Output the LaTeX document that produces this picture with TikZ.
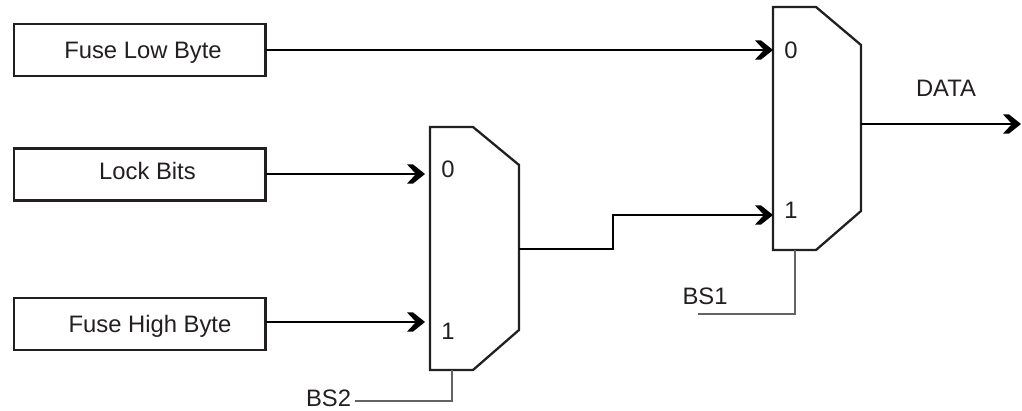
\documentclass[tikz,border=0pt]{standalone}
\usepackage{fontspec}
\setmainfont{Liberation Sans}
\usetikzlibrary{arrows.meta}
\definecolor{ink}{HTML}{231F20}
\pgfdeclarearrow{
  name=Chev,
  setup code={
    \pgfarrowssettipend{0pt}
    \pgfarrowssetlineend{-8pt}
    \pgfarrowssetbackend{-18pt}
    \pgfarrowssetvisualbackend{-9pt}
  },
  drawing code={
    \pgfpathmoveto{\pgfqpoint{0pt}{0pt}}
    \pgfpathlineto{\pgfqpoint{-12pt}{9.6pt}}
    \pgfpathlineto{\pgfqpoint{-18pt}{9.6pt}}
    \pgfpathlineto{\pgfqpoint{-9pt}{0pt}}
    \pgfpathlineto{\pgfqpoint{-18pt}{-9.6pt}}
    \pgfpathlineto{\pgfqpoint{-12pt}{-9.6pt}}
    \pgfpathclose
    \pgfusepathqfill
  }
}
\tikzset{
  x=1pt,y=-1pt,
  box/.style={draw=ink,line width=2.3pt,fill=white,minimum width=251.5pt,minimum height=52pt,inner sep=0pt,outer sep=0pt},
  txt/.style={anchor=base,inner sep=0pt,text=ink,font=\fontsize{23.8}{28}\selectfont},
  wire/.style={draw=black,line width=2.3pt,line join=miter},
  arrowwire/.style={wire,-{Chev}},
  muxbody/.style={draw=ink,line width=2.3pt,fill=white,line join=miter},
  sel/.style={draw=ink!70,line width=1.2pt},
}
\begin{document}
\begin{tikzpicture}
\useasboundingbox (0,0) rectangle (1022,411);
% input boxes
\node[box] (low) at (139.75,50) {};
\node[box] (lock) at (139.75,174.5) {};
\node[box] (high) at (139.75,324) {};
\node[txt] (lowt) at (143,59) {Fuse Low Byte};
\node[txt] (lockt) at (147.5,180) {Lock Bits};
\node[txt] (hight) at (150,333) {Fuse High Byte};
% multiplexer A (left)
\coordinate (a0) at (425,174);
\coordinate (a1) at (425,322);
\coordinate (aout) at (519,249);
\coordinate (asel) at (452,370);
\coordinate (asel2) at (452,401);
\coordinate (asel3) at (355,401);
\draw[muxbody] (430,127) -- (473,127) -- (519,165) -- (519,330) -- (473,370) -- (430,370) -- cycle;
% multiplexer B (right)
\coordinate (b0) at (773,50);
\coordinate (b1) at (773,215);
\coordinate (bout) at (861,124);
\coordinate (bsel) at (795,250);
\coordinate (bsel2) at (795,314);
\coordinate (bsel3) at (698,314);
\coordinate (dout) at (1021,124);
\coordinate (jog1) at (613,249);
\coordinate (jog2) at (613,215);
\draw[muxbody] (773,7) -- (816,7) -- (861,45) -- (861,211) -- (816,250) -- (773,250) -- cycle;
% connectors
\draw[arrowwire] (low.east |- b0) -- (b0);
\draw[arrowwire] (lock.east |- a0) -- (a0);
\draw[arrowwire] (high.east |- a1) -- (a1);
\draw[arrowwire] (aout) -- (jog1) -- (jog2) -- (b1);
\draw[arrowwire] (bout) -- (dout);
\draw[sel] (asel) -- (asel2) -- (asel3);
\draw[sel] (bsel) -- (bsel2) -- (bsel3);
% labels
\node[txt] (a0t) at (448,178) {0};
\node[txt] (a1t) at (448,339) {1};
\node[txt] (b0t) at (791,59) {0};
\node[txt] (b1t) at (791,219) {1};
\node[txt] (data) at (946,97) {DATA};
\node[txt] (bs1) at (705,305) {BS1};
\node[txt] (bs2) at (328.5,406) {BS2};
\end{tikzpicture}
\end{document}
